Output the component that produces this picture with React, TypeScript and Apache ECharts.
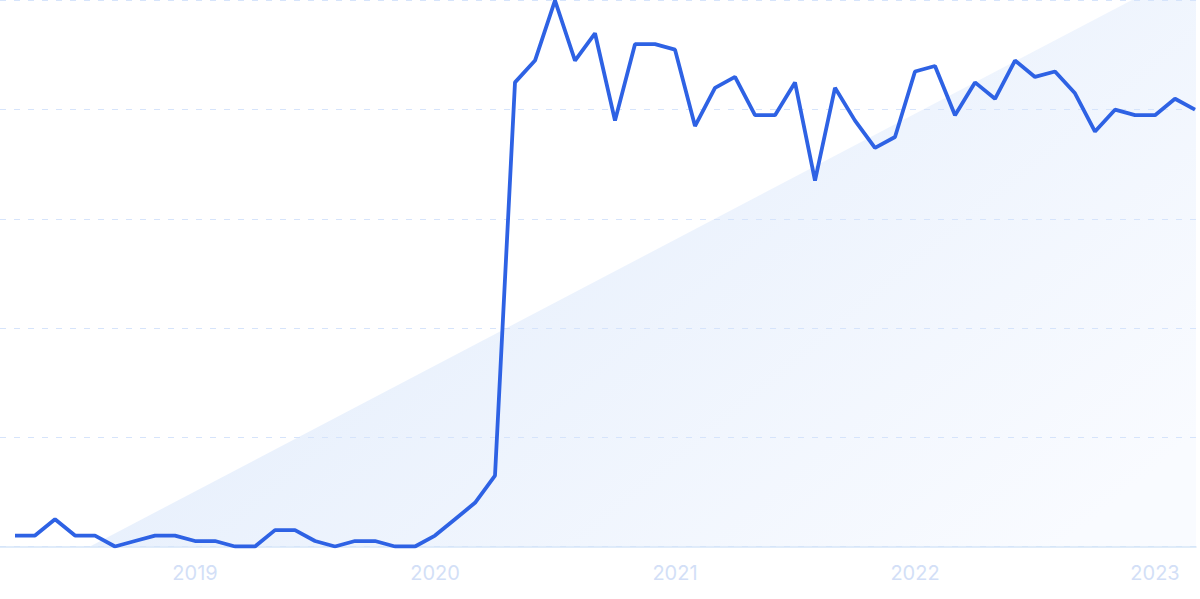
import React, { useEffect, useRef } from "react";
import * as echarts from "echarts";

const months: string[] = [
  "2018-04","2018-05","2018-06","2018-07","2018-08","2018-09","2018-10","2018-11","2018-12",
  "2019-01","2019-02","2019-03","2019-04","2019-05","2019-06","2019-07","2019-08","2019-09","2019-10","2019-11","2019-12",
  "2020-01","2020-02","2020-03","2020-04","2020-05","2020-06","2020-07","2020-08","2020-09","2020-10","2020-11","2020-12",
  "2021-01","2021-02","2021-03","2021-04","2021-05","2021-06","2021-07","2021-08","2021-09","2021-10","2021-11","2021-12",
  "2022-01","2022-02","2022-03","2022-04","2022-05","2022-06","2022-07","2022-08","2022-09","2022-10","2022-11","2022-12",
  "2023-01","2023-02","2023-03",
];

const values: number[] = [
  2, 2, 5, 2, 2, 0, 1, 2, 2,
  1, 1, 0, 0, 3, 3, 1, 0, 1, 1, 0, 0,
  2, 5, 8, 13, 85, 89, 100, 89, 94, 78, 92, 92,
  91, 77, 84, 86, 79, 79, 85, 67, 84, 78, 73, 75,
  87, 88, 79, 85, 82, 89, 86, 87, 83, 76, 80, 79,
  79, 82, 80,
];

const yTicks = { min: 0, max: 100, interval: 20 };

export default function App() {
  const ref = useRef<HTMLDivElement>(null);
  useEffect(() => {
    if (!ref.current) return;
    const chart = echarts.init(ref.current, undefined, { renderer: "svg" });
    chart.setOption({
      animation: false,
      backgroundColor: "#ffffff",
      grid: [
        { left: 0, right: 4, top: 0.5, bottom: 52.5 },
        { left: 15, right: 5, top: 0.5, bottom: 52.5 },
      ],
      graphic: [
        {
          type: "polygon",
          z: -10,
          silent: true,
          shape: {
            points: [
              [90, 546.5],
              [1132, 0],
              [1196, 0],
              [1196, 546.5],
            ],
          },
          style: {
            fill: new echarts.graphic.LinearGradient(0, 0.2, 1, 0.8, [
              { offset: 0, color: "#e0ebfb" },
              { offset: 1, color: "#f9fbff" },
            ]),
          },
        },
      ],
      xAxis: [
        {
          type: "value",
          gridIndex: 0,
          min: 0,
          max: 1,
          axisLine: { show: true, onZero: false, lineStyle: { color: "#d6e6f8", width: 1.5 } },
          axisTick: { show: false },
          axisLabel: { show: false },
          splitLine: { show: false },
        },
        {
          type: "category",
          gridIndex: 1,
          data: months,
          boundaryGap: false,
          axisLine: { show: false },
          axisTick: { show: false },
          splitLine: { show: false },
          axisLabel: {
            interval: (idx: number, val: string) => val.endsWith("-01"),
            formatter: (val: string) => val.slice(0, 4),
            color: "#d3dff7",
            fontSize: 20,
            fontFamily: "Inter",
            margin: 16,
          },
        },
      ],
      yAxis: [
        {
          type: "value",
          gridIndex: 0,
          min: yTicks.min,
          max: yTicks.max,
          interval: yTicks.interval,
          axisLabel: { show: false },
          axisLine: { show: false },
          axisTick: { show: false },
          splitLine: {
            show: true,
            lineStyle: { color: "#d6e4fb", type: [6, 8], width: 1 },
          },
        },
        {
          type: "value",
          gridIndex: 1,
          min: yTicks.min,
          max: yTicks.max,
          interval: yTicks.interval,
          axisLabel: { show: false },
          axisLine: { show: false },
          axisTick: { show: false },
          splitLine: { show: false },
        },
      ],
      series: [
        {
          type: "line",
          xAxisIndex: 1,
          yAxisIndex: 1,
          data: values,
          symbol: "none",
          z: 5,
          lineStyle: { color: "#2e62e4", width: 3.8 },
        },
      ],
    });
    return () => chart.dispose();
  }, []);
  return (
    <div
      ref={ref}
      style={{ position: "absolute", left: 0, top: 0, width: 1200, height: 599 }}
    />
  );
}
